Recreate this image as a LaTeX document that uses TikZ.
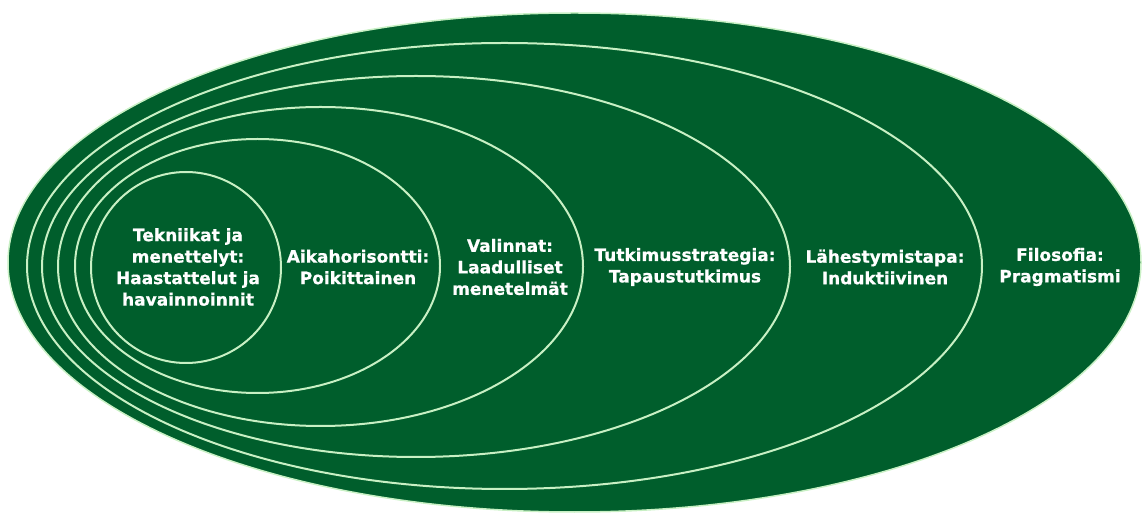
\documentclass[tikz,border=0pt]{standalone}
\usepackage{fontspec}
\newfontfamily\lblfont{DejaVu Sans Bold}[FakeBold=0.8]
\definecolor{darkgr}{RGB}{0,94,44}
\definecolor{lightgr}{RGB}{200,240,196}
\begin{document}
\begin{tikzpicture}[x=1pt,y=1pt,
  ring/.style={fill=darkgr,draw=lightgr,line width=2pt},
  lbl/.style={text=white,align=center,inner sep=0pt,font=\lblfont\fontsize{17}{21.5}\selectfont}]
\useasboundingbox (0,0) rectangle (1143,514);
% ellipses: centre x, centre y (image coords flipped), radii
\draw[ring,line width=1.5pt] (574.5,251.5) ellipse [x radius=566.5,y radius=249.5];
\draw[ring] (504.5,248) ellipse [x radius=477.5,y radius=223];
\draw[ring] (416,247.5) ellipse [x radius=374,y radius=190.5];
\draw[ring] (320.5,247.5) ellipse [x radius=262.5,y radius=159.5];
\draw[ring] (257.5,248) ellipse [x radius=182.5,y radius=127];
\draw[ring] (186,246.5) ellipse [x radius=95,y radius=95.5];
% labels
\node[lbl] (tek) at (188,247) {Tekniikat ja\\menettelyt:\\Haastattelut ja\\havainnoinnit};
\node[lbl] (aika) at (358,247) {Aikahorisontti:\\Poikittainen};
\node[lbl] (val) at (510,247) {Valinnat:\\Laadulliset\\menetelmät};
\node[lbl] (tut) at (685,247) {Tutkimusstrategia:\\Tapaustutkimus};
\node[lbl] (lah) at (885,247) {Lähestymistapa:\\Induktiivinen};
\node[lbl] (fil) at (1060,247) {Filosofia:\\Pragmatismi};
\end{tikzpicture}
\end{document}
